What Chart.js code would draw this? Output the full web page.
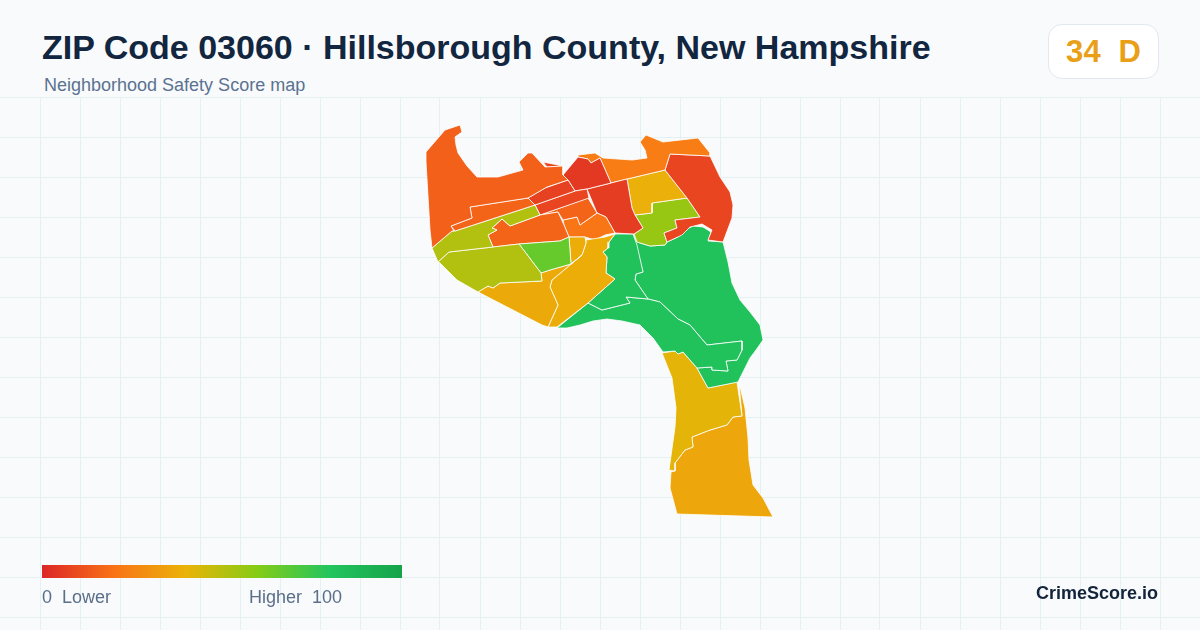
<!DOCTYPE html>
<html>
<head>
<meta charset="utf-8">
<title>ZIP Code 03060</title>
<script src="https://cdn.jsdelivr.net/npm/chart.js@4"></script>
<style>
  html, body { margin: 0; padding: 0; background: #f8fafc; }
  #wrap { position: relative; width: 1200px; height: 630px; overflow: hidden; font-family: "Liberation Sans", Arial, sans-serif; }
  #map { position: absolute; left: 0; top: 97px; }
  .txt { position: absolute; white-space: pre; line-height: 1; }
  #title { left: 42px; top: 30px; font-size: 34px; font-weight: bold; color: #12263f; }
  #subtitle { left: 44px; top: 76px; font-size: 18px; color: #5b7290; }
  #badge { position: absolute; left: 1048px; top: 24px; width: 109px; height: 53px; background: #fff; border: 1px solid #e2e8f0; border-radius: 14px; }
  #grade { left: 1066px; top: 36px; font-size: 31px; font-weight: bold; color: #eaa016; letter-spacing: 0.2px; }
  #ramp { position: absolute; left: 42px; top: 565px; width: 360px; height: 13px; }
  #lower { left: 42px; top: 588px; font-size: 18px; color: #5b6f88; }
  #higher { left: 249px; top: 588px; font-size: 18px; color: #5b6f88; }
  #brand { left: 1036px; top: 584px; font-size: 18px; font-weight: bold; color: #12233a; }
</style>
</head>
<body>
<div id="wrap">
  <canvas id="map" width="1200" height="533"></canvas>
  <div class="txt" id="title">ZIP Code 03060 · Hillsborough County, New Hampshire</div>
  <div class="txt" id="subtitle">Neighborhood Safety Score map</div>
  <div id="badge"></div>
  <div class="txt" id="grade">34  D</div>
  <div id="ramp"></div>
  <div class="txt" id="lower">0  Lower</div>
  <div class="txt" id="higher">Higher  100</div>
  <div class="txt" id="brand">CrimeScore.io</div>
</div>
<script>
// colour ramp for the safety score
const rampScores = [0, 20, 40, 60, 80, 100];
const rampColors = [[220, 38, 38], [249, 115, 22], [234, 179, 8], [132, 204, 22], [34, 197, 94], [22, 163, 74]];

// tract outlines, in map units
const northWest = [[426,152],[445,130],[460,125],[462,132],[455,137],[456,145],[458,153],[467,166],[477,177],[498,177],[523,170],[519,162],[528,153],[532,153],[545,167],[563,166],[563,175],[568,180],[547,187],[528,198],[470,207],[472,218],[451,226],[454,231],[452,231],[432,248],[430,230],[426,162]];
const sliver = [[543,162],[563,166],[547,167]];
const westStrip = [[470,207],[528,198],[535,205],[455,231],[451,226],[472,218]];
const upperLime = [[455,231],[535,205],[540,215],[510,226],[502,219],[492,228],[497,230],[488,235],[493,247],[449,252],[438,262],[432,248],[452,231]];
const lowerLime = [[449,252],[493,247],[519,244],[541,273],[542,281],[500,283],[493,288],[488,286],[478,292],[457,280],[440,263],[438,262]];
const parkGreen = [[519,244],[560,241],[569,237],[571,264],[550,270],[541,273]];
const southWest = [[478,292],[488,286],[493,288],[500,283],[542,281],[541,273],[550,270],[571,264],[582,255],[552,280],[550,287],[558,305],[548,327],[542,325]];
const narrowYellow = [[569,237],[585,237],[586,243],[582,255],[571,264]];
const westYellow = [[586,240],[605,237],[615,234],[609,242],[608,248],[603,252],[607,257],[606,273],[615,279],[588,303],[557,327],[548,327],[558,305],[550,287],[552,280],[582,255],[586,243]];
const midOrange = [[510,226],[540,215],[558,212],[564,225],[569,237],[560,241],[519,244],[493,247],[488,235],[497,230],[492,228],[502,219]];
const redStripe = [[528,198],[545,188],[568,180],[575,191],[535,205]];
const redStripe2 = [[535,205],[575,191],[587,189],[589,198],[540,215]];
const centreOrange = [[540,215],[588,198],[597,213],[580,225],[577,217],[563,220],[558,212]];
const brightOrange = [[563,220],[577,217],[580,225],[597,213],[606,217],[615,233],[605,235],[595,240],[585,237],[569,237],[564,225]];
const downtownNorth = [[563,175],[578,157],[588,159],[591,163],[600,158],[611,183],[587,189],[575,191],[568,180]];
const downtownEast = [[587,189],[627,179],[632,208],[635,215],[643,228],[634,234],[615,233],[606,217],[597,213]];
const northOrange = [[578,155],[595,153],[603,158],[632,160],[647,158],[645,150],[640,142],[646,135],[663,142],[698,138],[710,153],[710,156],[670,154],[665,170],[627,179],[611,183],[600,158],[591,163],[588,159],[578,157]];
const northEastRed = [[670,154],[710,156],[720,177],[730,192],[733,205],[732,218],[723,242],[708,240],[712,230],[702,224],[690,227],[682,235],[667,242],[664,233],[677,228],[675,220],[700,217],[687,198],[665,170]];
const eastYellow = [[627,179],[665,170],[687,198],[652,203],[652,213],[635,215],[632,208]];
const eastLime = [[635,215],[652,213],[652,203],[687,198],[700,217],[675,220],[677,228],[664,233],[667,242],[665,245],[650,246],[637,242],[634,234],[643,228]];
const greenWest = [[615,234],[633,234],[637,245],[643,272],[636,274],[635,280],[648,299],[626,297],[630,303],[602,310],[588,303],[615,279],[606,273],[607,257],[603,252],[608,248],[609,242]];
const greenSouth = [[588,303],[602,310],[630,303],[626,297],[648,299],[660,302],[678,319],[690,325],[707,345],[742,341],[742,350],[737,360],[726,361],[728,371],[712,370],[712,367],[697,368],[683,352],[678,354],[675,351],[663,352],[653,338],[640,325],[622,321],[607,319],[593,321],[580,325],[567,328],[557,328]];
const greenEast = [[633,234],[637,242],[650,246],[665,245],[667,242],[678,237],[683,231],[693,226],[703,227],[711,232],[708,241],[723,242],[728,262],[732,283],[740,300],[750,312],[760,325],[763,340],[756,350],[750,358],[744,370],[738,382],[708,388],[697,368],[712,367],[712,370],[728,371],[726,361],[737,360],[742,350],[742,341],[707,345],[690,325],[678,319],[660,302],[648,299],[635,280],[636,274],[643,272]];
const southYellow = [[662,353],[675,351],[678,354],[683,352],[697,368],[708,388],[737,382],[742,416],[733,417],[727,425],[710,430],[692,437],[693,447],[685,450],[675,463],[675,471],[669,470],[675,427],[676,408],[672,378]];
const southOrange = [[739,382],[745,408],[748,438],[749,460],[753,485],[763,498],[773,517],[677,514],[670,488],[671,472],[675,471],[675,463],[685,450],[693,447],[692,437],[710,430],[727,425],[733,417],[742,416]];

const regionShapes = [northWest, sliver, westStrip, upperLime, lowerLime, parkGreen, southWest, narrowYellow, westYellow, midOrange, redStripe, redStripe2, centreOrange, brightOrange, downtownNorth, downtownEast, northOrange, northEastRed, eastYellow, eastLime, greenWest, greenSouth, greenEast, southYellow, southOrange];
const regionScores = [15, 8, 16, 51, 51, 66, 37, 38, 38, 16, 7, 8, 16, 21, 5, 6, 23, 8, 39, 56, 82, 82, 82, 41, 36];

// background grid lines, map units
const gridX = [40, 80, 120, 160, 200, 240, 280, 320, 360, 400, 440, 480, 520, 560, 600, 640, 680, 720, 760, 800, 840, 880, 920, 960, 1000, 1040, 1080, 1120, 1160];
const gridY = [97, 137, 177, 217, 257, 297, 337, 377, 417, 457, 497, 537, 577, 617];

function scoreColor(score) {
    let i = 0;
    while (i < rampScores.length - 2 && score > rampScores[i + 1]) i++;
    const t = (score - rampScores[i]) / (rampScores[i + 1] - rampScores[i]);
    const a = rampColors[i], b = rampColors[i + 1];
    const c = a.map((v, k) => Math.round(v + (b[k] - v) * t));
    return `rgb(${c[0]}, ${c[1]}, ${c[2]})`;
}

document.getElementById('ramp').style.background = 'linear-gradient(to right, ' +
    rampColors.map((c, i) => `rgb(${c.join(',')}) ${rampScores[i]}%`).join(', ') + ')';

const gridOptions = { color: '#e5f0f3', lineWidth: 1, drawTicks: false };

new Chart(document.getElementById('map').getContext('2d'), {
    type: 'scatter',
    data: {
        datasets: regionShapes.map((shape, i) => ({
            data: shape.concat([shape[0]]).map(p => ({ x: p[0], y: p[1] })),
            showLine: true,
            fill: 'shape',
            backgroundColor: scoreColor(regionScores[i]),
            borderColor: '#ffffff',
            borderWidth: 0.8,
            borderJoinStyle: 'round',
            pointRadius: 0,
            pointHoverRadius: 0,
            tension: 0
        }))
    },
    options: {
        responsive: false,
        animation: false,
        layout: { padding: 0 },
        plugins: { legend: { display: false }, tooltip: { enabled: false } },
        scales: {
            x: {
                type: 'linear', min: 0, max: 1200,
                border: { display: false },
                grid: gridOptions,
                ticks: { display: false },
                afterBuildTicks: scale => { scale.ticks = gridX.map(v => ({ value: v })); }
            },
            y: {
                type: 'linear', min: 97, max: 630, reverse: true,
                border: { display: false },
                grid: gridOptions,
                ticks: { display: false },
                afterBuildTicks: scale => { scale.ticks = gridY.map(v => ({ value: v })); }
            }
        }
    }
});
</script>
</body>
</html>
